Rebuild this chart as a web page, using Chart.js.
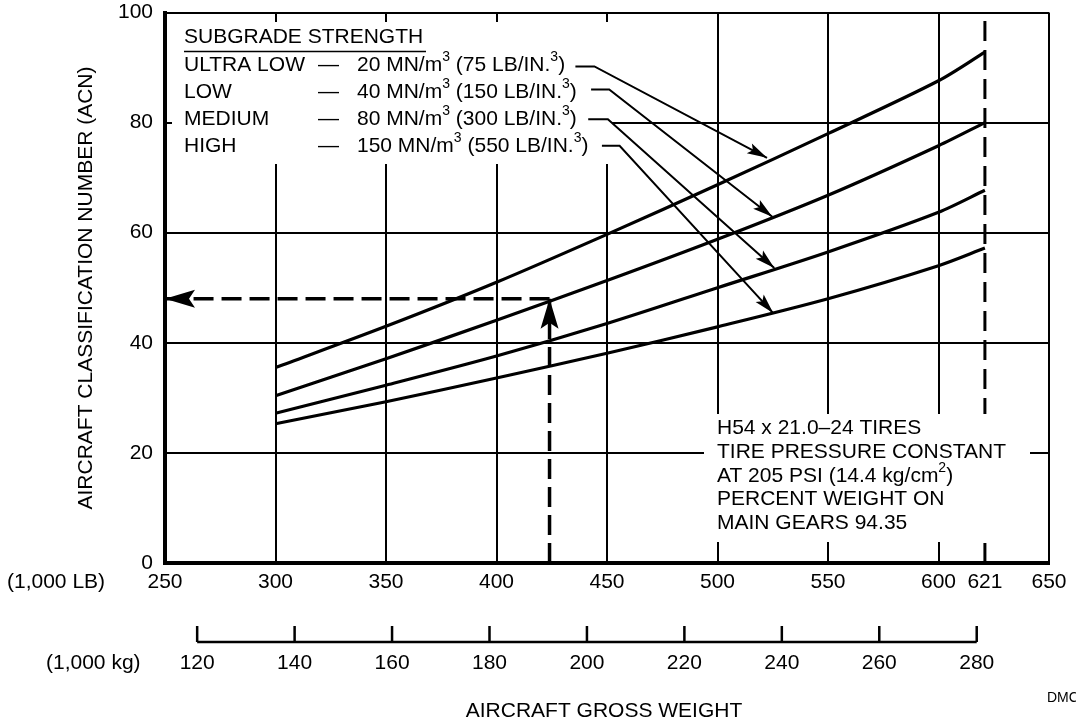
<!DOCTYPE html>
<html>
<head>
<meta charset="utf-8">
<script src="https://cdn.jsdelivr.net/npm/chart.js@4"></script>
<style>
  body { margin: 0; background: #fff; }
  #wrap { width: 1076px; height: 725px; position: relative; }
</style>
</head>
<body>
<div id="wrap"><canvas id="acnChart"></canvas></div>
<script>
// Gross weight (1,000 lb) where the curves were read
const weightLb = [300, 350, 400, 450, 500, 550, 600, 621];

// ACN per subgrade strength
const acnUltraLow = [35.5, 43.0, 51.0, 59.7, 68.7, 78.0, 87.6, 92.8];
const acnLow = [30.4, 37.1, 44.1, 51.3, 58.8, 66.8, 75.8, 80.0];
const acnMedium = [27.2, 32.3, 37.6, 43.5, 50.0, 56.5, 63.7, 67.7];
const acnHigh = [25.3, 29.3, 33.6, 38.1, 42.9, 48.0, 54.0, 57.2];

// Axis ticks
const lbTicks = [250, 300, 350, 400, 450, 500, 550, 600, 621, 650];
const kgTicks = [120, 140, 160, 180, 200, 220, 240, 260, 280];
const acnTicks = [0, 20, 40, 60, 80, 100];
const LB_PER_KG = 1 / 0.45359237;

// Max weight line and example read-off
const maxWeightX = [621, 621];
const maxWeightY = [0, 100];
const readUpX = [424, 424];
const readUpY = [0, 48];
const readLeftX = [424, 250];
const readLeftY = [48, 48];

// Legend leader arrows
const leaderUltraLowX = [435.7, 444.3, 522.4];
const leaderUltraLowY = [90.2, 90.2, 73.6];
const leaderLowX = [442.8, 451.0, 524.8];
const leaderLowY = [86.0, 86.0, 62.9];
const leaderMediumX = [441.5, 450.4, 525.7];
const leaderMediumY = [80.6, 80.6, 53.6];
const leaderHighX = [447.7, 455.7, 525.2];
const leaderHighY = [75.8, 75.8, 45.4];

const FONT = '"Liberation Sans", Arial, Helvetica, sans-serif';
Chart.defaults.font.family = FONT;
Chart.defaults.color = '#000';

function pts(xs, ys) {
  return xs.map((x, i) => ({ x: x, y: ys[i] }));
}

function curve(ys) {
  return {
    data: pts(weightLb, ys),
    borderColor: '#000',
    borderWidth: 3.2,
    pointRadius: 0,
    tension: 0.3
  };
}

function leader(xs, ys) {
  return {
    data: pts(xs, ys),
    borderColor: '#000',
    borderWidth: 2,
    pointRadius: 0,
    arrow: { len: 20, half: 5.5, notch: 4 }
  };
}

// draw text with superscript parts like {sup: '3'}
function drawRich(ctx, x, y, parts) {
  parts.forEach(p => {
    const sup = typeof p !== 'string';
    const txt = sup ? p.sup : p;
    ctx.font = (sup ? '14px ' : '21px ') + FONT;
    ctx.fillText(txt, x, sup ? y - 8 : y);
    x += ctx.measureText(txt).width;
  });
}

// white space behind the subgrade legend (hides grid lines)
const legendBoxPlugin = {
  id: 'legendBox',
  beforeDatasetsDraw(chart) {
    const ctx = chart.ctx;
    ctx.save();
    ctx.fillStyle = '#fff';
    ctx.fillRect(172, 22, 440, 142);
    ctx.restore();
  }
};

const arrowPlugin = {
  id: 'arrows',
  afterDatasetsDraw(chart) {
    const ctx = chart.ctx;
    chart.data.datasets.forEach((ds, i) => {
      if (!ds.arrow) return;
      const pts = chart.getDatasetMeta(i).data;
      const a = pts[pts.length - 2], b = pts[pts.length - 1];
      const dx = b.x - a.x, dy = b.y - a.y;
      const d = Math.hypot(dx, dy);
      const ux = dx / d, uy = dy / d;
      const px = -uy, py = ux;
      const { len, half, notch } = ds.arrow;
      ctx.save();
      ctx.fillStyle = '#000';
      ctx.beginPath();
      ctx.moveTo(b.x, b.y);
      ctx.lineTo(b.x - ux * len + px * half, b.y - uy * len + py * half);
      ctx.lineTo(b.x - ux * (len - notch), b.y - uy * (len - notch));
      ctx.lineTo(b.x - ux * len - px * half, b.y - uy * len - py * half);
      ctx.closePath();
      ctx.fill();
      ctx.restore();
    });
  }
};

const textPlugin = {
  id: 'texts',
  afterDatasetsDraw(chart) {
    const ctx = chart.ctx;
    const x = chart.scales.x;
    ctx.save();
    ctx.fillStyle = '#000';
    ctx.strokeStyle = '#000';
    ctx.textBaseline = 'middle';

    // note box, bottom right
    ctx.fillStyle = '#fff';
    ctx.fillRect(704, 414, 326, 128);
    ctx.fillStyle = '#000';
    ctx.textAlign = 'left';
    drawRich(ctx, 717, 428, ['H54 x 21.0\u201324 TIRES']);
    drawRich(ctx, 717, 452.5, ['TIRE PRESSURE CONSTANT']);
    drawRich(ctx, 717, 476.5, ['AT 205 PSI (14.4 kg/cm', { sup: '2' }, ')']);
    drawRich(ctx, 717, 499.5, ['PERCENT WEIGHT ON']);
    drawRich(ctx, 717, 523.5, ['MAIN GEARS 94.35']);

    // subgrade legend
    drawRich(ctx, 184, 37, ['SUBGRADE STRENGTH']);
    ctx.lineWidth = 1.5;
    ctx.beginPath();
    ctx.moveTo(184, 51.5);
    ctx.lineTo(426, 51.5);
    ctx.stroke();
    const rows = [
      ['ULTRA LOW', '20 MN/m', '75'],
      ['LOW', '40 MN/m', '150'],
      ['MEDIUM', '80 MN/m', '300'],
      ['HIGH', '150 MN/m', '550']
    ];
    const rowY = [65.5, 92, 119.5, 146.5];
    rows.forEach((r, i) => {
      drawRich(ctx, 184, rowY[i], [r[0]]);
      drawRich(ctx, 318, rowY[i], ['\u2014']);
      drawRich(ctx, 357, rowY[i], [r[1], { sup: '3' }, ' (' + r[2] + ' LB/IN.', { sup: '3' }, ')']);
    });

    // kg axis
    const kgY = 642;
    ctx.lineWidth = 2.5;
    ctx.beginPath();
    ctx.moveTo(x.getPixelForValue(kgTicks[0] * LB_PER_KG), kgY);
    ctx.lineTo(x.getPixelForValue(kgTicks[kgTicks.length - 1] * LB_PER_KG), kgY);
    kgTicks.forEach(k => {
      const px = x.getPixelForValue(k * LB_PER_KG);
      ctx.moveTo(px, kgY);
      ctx.lineTo(px, 626);
    });
    ctx.stroke();
    ctx.font = '21px ' + FONT;
    ctx.textAlign = 'center';
    kgTicks.forEach(k => {
      ctx.fillText(String(k), x.getPixelForValue(k * LB_PER_KG), 663.5);
    });

    // axis captions
    ctx.textAlign = 'left';
    ctx.fillText('(1,000 LB)', 7, 582.5);
    ctx.fillText('(1,000 kg)', 46, 663.5);
    ctx.textAlign = 'center';
    ctx.fillText('AIRCRAFT GROSS WEIGHT', 604, 711);
    ctx.save();
    ctx.translate(86, 288);
    ctx.rotate(-Math.PI / 2);
    ctx.fillText('AIRCRAFT CLASSIFICATION NUMBER (ACN)', 0, 0);
    ctx.restore();
    ctx.textAlign = 'left';
    ctx.font = '14px ' + FONT;
    ctx.fillText('DMC', 1047, 698);
    ctx.restore();
  }
};

const datasets = [
  curve(acnUltraLow),
  curve(acnLow),
  curve(acnMedium),
  curve(acnHigh),
  {
    data: pts(maxWeightX, maxWeightY),
    borderColor: '#000',
    borderWidth: 3,
    borderDash: [20, 9],
    pointRadius: 0
  },
  {
    data: pts(readUpX, readUpY),
    borderColor: '#000',
    borderWidth: 3.5,
    borderDash: [20, 8],
    pointRadius: 0,
    arrow: { len: 30, half: 9, notch: 6 }
  },
  {
    data: pts(readLeftX, readLeftY),
    borderColor: '#000',
    borderWidth: 3.5,
    borderDash: [20, 8],
    pointRadius: 0,
    arrow: { len: 30, half: 9, notch: 6 }
  },
  leader(leaderUltraLowX, leaderUltraLowY),
  leader(leaderLowX, leaderLowY),
  leader(leaderMediumX, leaderMediumY),
  leader(leaderHighX, leaderHighY)
];

const ctx = document.getElementById('acnChart').getContext('2d');
new Chart(ctx, {
  type: 'scatter',
  data: { datasets: datasets.map(d => Object.assign({ showLine: true, fill: false }, d)) },
  options: {
    responsive: true,
    maintainAspectRatio: false,
    animation: false,
    layout: { padding: { left: 0, right: 27, top: 12.5, bottom: 0 } },
    plugins: { legend: { display: false }, tooltip: { enabled: false } },
    scales: {
      x: {
        type: 'linear',
        min: 250,
        max: 650,
        afterBuildTicks: s => { s.ticks = lbTicks.map(v => ({ value: v })); },
        afterFit: s => { s.height = 162; s.paddingLeft = 0; s.paddingRight = 0; },
        grid: {
          color: c => (c.tick && c.tick.value === 621) ? 'rgba(0,0,0,0)' : '#000',
          lineWidth: 2,
          drawTicks: false
        },
        border: { display: true, color: '#000', width: 4 },
        ticks: { font: { size: 21 }, color: '#000', padding: 7, maxRotation: 0, autoSkip: false }
      },
      y: {
        min: 0,
        max: 100,
        afterBuildTicks: s => { s.ticks = acnTicks.map(v => ({ value: v })); },
        afterFit: s => { s.width = 165; s.paddingTop = 0; s.paddingBottom = 0; },
        grid: { color: '#000', lineWidth: 2, drawTicks: false },
        border: { display: true, color: '#000', width: 4 },
        ticks: { font: { size: 21 }, color: '#000', padding: 12 }
      }
    }
  },
  plugins: [legendBoxPlugin, arrowPlugin, textPlugin]
});
</script>
</body>
</html>
